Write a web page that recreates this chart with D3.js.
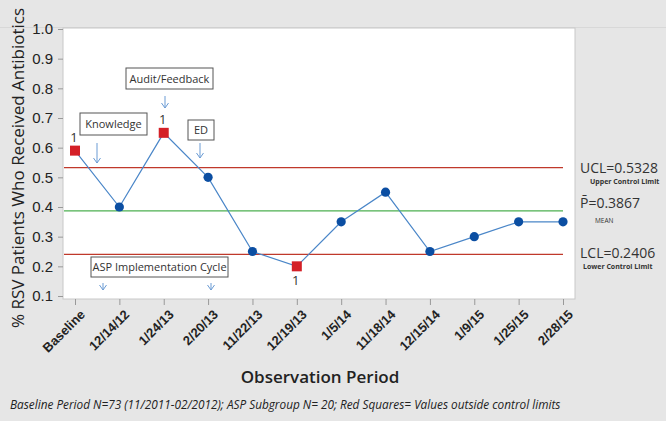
<!DOCTYPE html>
<html><head><meta charset="utf-8">
<script src="https://cdn.jsdelivr.net/npm/d3@7"></script>
<style>body{margin:0;background:#e6e6e6;}svg{display:block;font-family:"Open Sans",sans-serif;}</style>
</head><body><svg id="c" width="666" height="421"></svg>
<script>
const categories = ["Baseline","12/14/12","1/24/13","2/20/13","11/22/13","12/19/13","1/5/14","11/18/14","12/15/14","1/9/15","1/25/15","2/28/15"];
const values = [0.59,0.40,0.65,0.50,0.25,0.20,0.35,0.45,0.25,0.30,0.35,0.35];
const outside = [true,false,true,false,false,true,false,false,false,false,false,false];
const yTicks = [0.1,0.2,0.3,0.4,0.5,0.6,0.7,0.8,0.9,1.0];
const UCL = 0.5328, MEAN = 0.3867, LCL = 0.2406;

const svg = d3.select("#c");
svg.append("rect").attr("width",666).attr("height",421).attr("fill","#e6e6e6");
svg.append("line").attr("x1",0).attr("x2",666).attr("y1",27.5).attr("y2",27.5).attr("stroke","#d8d8d8");

const L=63,T=28,R=575,B=299;
const y = d3.scaleLinear().domain([0.1,1.0]).range([296,29]);
const x = d3.scalePoint().domain(categories).range([75,563]);

svg.append("rect").attr("x",L).attr("y",T).attr("width",R-L).attr("height",B-T).attr("fill","#fff").attr("stroke","#c8c8c8");

const ya = svg.append("g").attr("transform",`translate(${L},0)`)
  .call(d3.axisLeft(y).tickValues(yTicks).tickFormat(d3.format(".1f")).tickSize(5));
ya.select(".domain").remove();
ya.selectAll("line").attr("stroke","#999");
ya.selectAll("text").attr("font-size",15).attr("fill","#222").attr("dx",-2);

const xa = svg.append("g").attr("transform",`translate(0,${B})`)
  .call(d3.axisBottom(x).tickSize(6));
xa.select(".domain").remove();
xa.selectAll("line").attr("stroke","#999");
xa.selectAll("text").attr("font-size",13).attr("fill","#222").attr("font-weight","600")
  .attr("text-anchor","end").attr("dy",0).attr("dx",0)
  .attr("transform","translate(4,10) rotate(-45)");

// control lines
const lines=[[UCL,"#c0392b"],[MEAN,"#4caf50"],[LCL,"#c0392b"]];
lines.forEach(([v,c])=>svg.append("line").attr("x1",L+1).attr("x2",563).attr("y1",y(v)).attr("y2",y(v)).attr("stroke",c).attr("stroke-width",1.2));

// series line
svg.append("path").datum(values).attr("fill","none").attr("stroke","#4a86c8").attr("stroke-width",1.2)
  .attr("d",d3.line().x((d,i)=>x(categories[i])).y(d=>y(d)));

const pts = categories.map((c,i)=>({c,v:values[i],o:outside[i]}));
svg.selectAll(".dot").data(pts.filter(p=>!p.o)).enter().append("circle")
  .attr("cx",p=>x(p.c)).attr("cy",p=>y(p.v)).attr("r",4.6).attr("fill","#0b4ea2");
svg.selectAll(".sq").data(pts.filter(p=>p.o)).enter().append("rect")
  .attr("x",p=>x(p.c)-5).attr("y",p=>y(p.v)-5).attr("width",10).attr("height",10).attr("fill","#d42027");
svg.selectAll(".one").data(pts.filter(p=>p.o)).enter().append("text")
  .attr("x",p=>x(p.c)-1).attr("y",p=>p.v<LCL? y(p.v)+19 : y(p.v)-9)
  .attr("text-anchor","middle").attr("font-size",13).attr("fill","#333").text("1");

// annotation boxes
function box(x0,y0,w,h,t){
  svg.append("rect").attr("x",x0).attr("y",y0).attr("width",w).attr("height",h).attr("fill","#fff").attr("stroke","#555").attr("stroke-width",1);
  svg.append("text").attr("x",x0+w/2).attr("y",y0+h/2+4).attr("text-anchor","middle").attr("font-size",11).attr("fill","#333").text(t);
}
function arrow(ax,y0,y1){
  svg.append("line").attr("x1",ax).attr("x2",ax).attr("y1",y0).attr("y2",y1).attr("stroke","#6a9bd4").attr("stroke-width",1);
  svg.append("path").attr("d",`M${ax-3.5},${y1-5}L${ax},${y1}L${ax+3.5},${y1-5}`).attr("fill","none").attr("stroke","#6a9bd4").attr("stroke-width",1);
}
box(80,113,67,22,"Knowledge"); arrow(97,143,163);
box(126,68,87,21,"Audit/Feedback"); arrow(165,96,108);
box(188,120,26,20,"ED"); arrow(200,143,158);
box(91,257,137,20,"ASP Implementation Cycle"); arrow(103,283,290); arrow(211,283,290);

// right labels
const rl = svg.append("g");
rl.append("text").attr("x",580).attr("y",y(UCL)+5).attr("font-size",14).attr("fill","#333").text("UCL=0.5328");
rl.append("text").attr("x",590).attr("y",y(UCL)+16).attr("font-size",7).attr("font-weight","700").attr("fill","#333").text("Upper Control Limit");
rl.append("text").attr("x",580).attr("y",y(MEAN)-3).attr("font-size",14).attr("fill","#333").text("P\u0304=0.3867");
rl.append("text").attr("x",595).attr("y",y(MEAN)+12).attr("font-size",6.5).attr("fill","#333").text("MEAN");
rl.append("text").attr("x",580).attr("y",y(LCL)+4).attr("font-size",14).attr("fill","#333").text("LCL=0.2406");
rl.append("text").attr("x",583).attr("y",y(LCL)+15).attr("font-size",7).attr("font-weight","700").attr("fill","#333").text("Lower Control Limit");

// titles
svg.append("text").attr("transform","translate(24,168) rotate(-90)").attr("text-anchor","middle")
  .attr("font-size",17).attr("fill","#222").text("% RSV Patients Who Received Antibiotics");
svg.append("text").attr("x",320).attr("y",383).attr("text-anchor","middle").attr("font-size",17).attr("font-weight","600").attr("fill","#222").text("Observation Period");
svg.append("text").attr("x",10).attr("y",409).attr("font-size",11.8).attr("font-style","italic").attr("fill","#222")
  .text("Baseline Period N=73 (11/2011-02/2012); ASP Subgroup N= 20; Red Squares= Values outside control limits");
</script></body></html>
